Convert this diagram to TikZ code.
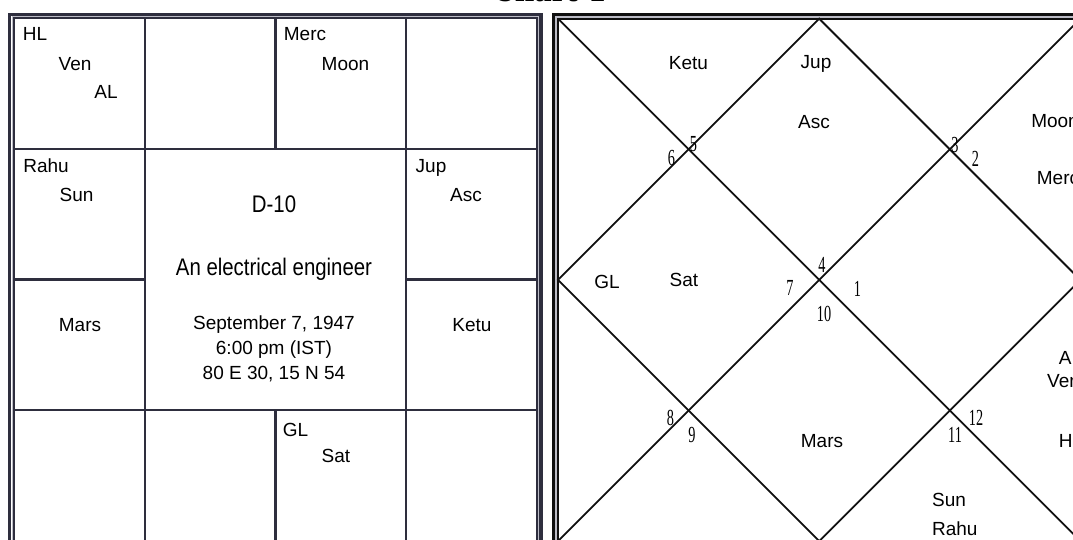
\documentclass[tikz,border=0pt]{standalone}
\usepackage{fontspec}
\setmainfont{Liberation Sans}
\newfontfamily\narrowsans[FakeStretch=0.85]{Liberation Sans}
\newfontfamily\narrowserif[FakeStretch=0.62]{Liberation Serif}
\newfontfamily\titleserif{DejaVu Serif}
\usepackage{tikz}
\usetikzlibrary{positioning}
\definecolor{gridnavy}{RGB}{46,46,62}
\definecolor{gapgray}{RGB}{188,188,198}
\definecolor{lineblack}{RGB}{16,16,16}
\tikzset{
  planet/.style={inner sep=0pt, font=\fontsize{19}{22}\selectfont,
    text height=13.6pt, text depth=0pt},
  bigtext/.style={inner sep=0pt, font=\narrowsans\fontsize{24}{28}\selectfont,
    text height=17.2pt, text depth=0pt},
  housenum/.style={inner sep=0pt, font=\narrowserif\fontsize{23}{26}\selectfont,
    text height=15.5pt, text depth=0pt},
  gridline/.style={line width=2.5pt, color=gridnavy},
  diagline/.style={line width=1.8pt, color=lineblack}
}

\begin{document}
\begin{tikzpicture}[x=1pt, y=-1pt]
  \clip (0,0) rectangle (1073,540);
  \node[font=\titleserif\bfseries\fontsize{27}{30}\selectfont, anchor=base, inner sep=0pt] (title) at (550,1.2) {Chart 1};

  % south indian chart
  \draw[line width=3.5pt, gridnavy] (9.5,14.3) rectangle (540.8,546);
  \draw[line width=1.6pt, gapgray] (12.3,16.7) rectangle (538.6,543.6);
  \draw[line width=2pt, gridnavy] (14.3,18.2) rectangle (536.7,541);
  \draw[gridline] (144.9,18.2) -- (144.9,541);
  \draw[gridline] (406.1,18.2) -- (406.1,541);
  \draw[gridline] (275.5,18.2) -- (275.5,148.8);
  \draw[gridline] (275.5,410) -- (275.5,541);
  \draw[gridline] (14.3,148.8) -- (536.7,148.8);
  \draw[gridline] (14.3,410) -- (536.7,410);
  \draw[gridline] (14.3,279.4) -- (144.9,279.4);
  \draw[gridline] (406.1,279.4) -- (536.7,279.4);

  \node[planet] (lhl) at (35,34) {HL};
  \node[planet] (lven) at (75,64) {Ven};
  \node[planet] (lal) at (106,92) {AL};
  \node[planet] (lmerc) at (305,34) {Merc};
  \node[planet] (lmoon) at (345.5,64) {Moon};
  \node[planet] (lrahu) at (46,166) {Rahu};
  \node[planet] (lsun) at (76.5,194.5) {Sun};
  \node[planet] (ljup) at (431,166) {Jup};
  \node[planet] (lasc) at (466,195) {Asc};
  \node[planet] (lmars) at (80,325) {Mars};
  \node[planet] (lketu) at (472,325) {Ketu};
  \node[planet] (lgl) at (295.5,430) {GL};
  \node[planet] (lsat) at (336,456) {Sat};
  \node[bigtext] (ldiv) at (274,204) {D-10};
  \node[bigtext] (lprof) at (274,267) {An electrical engineer};
  \node[planet] (ldate) at (274,323) {September 7, 1947};
  \node[planet, below=10.9pt of ldate] (ltime) {6:00 pm (IST)};
  \node[planet, below=10.4pt of ltime] (lplace) {80 E 30, 15 N 54};

  % north indian chart
  \draw[line width=3pt, lineblack] (553.5,15) rectangle (1090,548);
  \draw[line width=1.4pt, gapgray] (556,17) rectangle (1086,545);
  \draw[line width=2pt, lineblack] (558,18.7) rectangle (1080.4,541.1);
  \coordinate (tl) at (558,18.7);
  \coordinate (tr) at (1080.4,18.7);
  \coordinate (bl) at (558,541.1);
  \coordinate (br) at (1080.4,541.1);
  \coordinate (tm) at (819.2,18.7);
  \coordinate (bm) at (819.2,541.1);
  \coordinate (lm) at (558,279.9);
  \coordinate (rm) at (1080.4,279.9);
  \draw[diagline] (tl) -- (br);
  \draw[diagline] (tr) -- (bl);
  \draw[diagline, line join=miter] (tm) -- (rm) -- (bm) -- (lm) -- cycle;

  \node[housenum] (h5) at (693.5,143.5) {5};
  \node[housenum] (h6) at (671.5,158) {6};
  \node[housenum] (h3) at (955,144.5) {3};
  \node[housenum] (h2) at (975.5,158.5) {2};
  \node[housenum] (h4) at (822,264.5) {4};
  \node[housenum] (h7) at (790,288) {7};
  \node[housenum] (h1) at (857.5,289) {1};
  \node[housenum] (h10) at (824,314) {10};
  \node[housenum] (h8) at (670.5,418) {8};
  \node[housenum] (h9) at (692,435) {9};
  \node[housenum] (h12) at (976,418) {12};
  \node[housenum] (h11) at (955,435) {11};

  \node[planet] (rketu) at (688.5,62.5) {Ketu};
  \node[planet] (rjup) at (816,62) {Jup};
  \node[planet] (rasc) at (814,121.5) {Asc};
  \node[planet] (rmoon) at (1055,121) {Moon};
  \node[planet] (rmerc) at (1058,178) {Merc};
  \node[planet] (rgl) at (607,281.5) {GL};
  \node[planet] (rsat) at (684,280) {Sat};
  \node[planet] (rmars) at (822,440.5) {Mars};
  \node[planet] (ral) at (1070.5,358) {AL};
  \node[planet] (rven) at (1063.5,381) {Ven};
  \node[planet] (rhl) at (1071,441) {HL};
  \node[planet] (rsun) at (949,500) {Sun};
  \node[planet, below=14.4pt of rsun.south west, anchor=north west] (rrahu) {Rahu};
\end{tikzpicture}
\end{document}
